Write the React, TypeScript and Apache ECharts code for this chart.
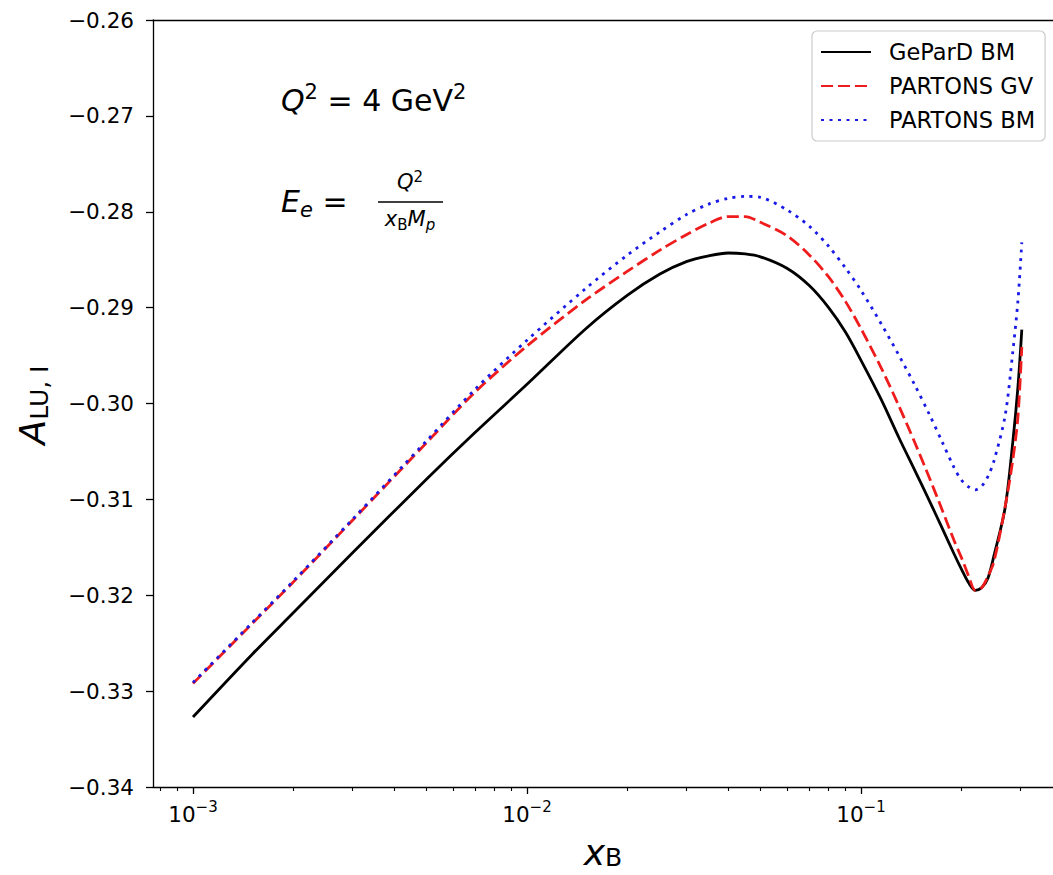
import React, { useEffect, useRef } from "react";
import * as echarts from "echarts";

// x_B sample points
const xB = [0.001, 0.0015, 0.002, 0.003, 0.005, 0.007, 0.01, 0.015, 0.02, 0.025, 0.03, 0.035, 0.04, 0.045, 0.05, 0.06, 0.07, 0.08, 0.09, 0.1, 0.115, 0.13, 0.145, 0.16, 0.175, 0.19, 0.2, 0.21, 0.22, 0.23, 0.24, 0.25, 0.27, 0.285, 0.295, 0.303];
// A_LU,I values
const gepardBM = [-0.3327, -0.3262, -0.3218, -0.3156, -0.3079, -0.303, -0.298, -0.2922, -0.2887, -0.2865, -0.2852, -0.2846, -0.2843, -0.2844, -0.2847, -0.2859, -0.2877, -0.29, -0.2926, -0.2955, -0.2996, -0.3036, -0.307, -0.3101, -0.313, -0.3157, -0.3173, -0.3187, -0.3195, -0.3192, -0.3182, -0.3159, -0.3109, -0.3039, -0.2983, -0.2923];
const partonsGV = [-0.3292, -0.323, -0.3186, -0.3122, -0.3041, -0.2988, -0.294, -0.2892, -0.2862, -0.284, -0.2824, -0.2812, -0.2805, -0.2805, -0.2811, -0.2825, -0.2845, -0.2868, -0.2894, -0.2922, -0.2963, -0.3003, -0.3041, -0.3077, -0.3111, -0.3143, -0.3161, -0.318, -0.3195, -0.3192, -0.318, -0.3165, -0.3108, -0.3058, -0.3014, -0.2941];
const partonsBM = [-0.3291, -0.3229, -0.3185, -0.3121, -0.3039, -0.2985, -0.2934, -0.288, -0.2845, -0.2821, -0.2803, -0.2792, -0.2786, -0.2784, -0.2785, -0.2798, -0.2815, -0.2836, -0.2859, -0.2882, -0.2917, -0.295, -0.2981, -0.3011, -0.304, -0.3067, -0.308, -0.3087, -0.309, -0.3086, -0.3076, -0.306, -0.3013, -0.2945, -0.2893, -0.2832];

const seriesNames = ["GeParD BM", "PARTONS GV", "PARTONS BM"];
const majorTicks = [0.001, 0.01, 0.1];
const minorTicks = [0.0008, 0.0009, 0.002, 0.003, 0.004, 0.005, 0.006, 0.007, 0.008, 0.009, 0.02, 0.03, 0.04, 0.05, 0.06, 0.07, 0.08, 0.09, 0.2, 0.3];
const yMin = -0.34;
const yMax = -0.26;
const yStep = 0.01;
const xMin = 0.000759;
const xMax = 0.3757;

const FONT = "DejaVu Sans";

export default function App() {
  const ref = useRef<HTMLDivElement>(null);
  useEffect(() => {
    if (!ref.current) return;
    const chart = echarts.init(ref.current, undefined, { renderer: "svg" });
    const pair = (ys: number[]) => xB.map((x, i) => [x, ys[i]]);
    const supExp = (v: number) => {
      const e = Math.round(Math.log10(v));
      return "{b|10}{e|" + (e < 0 ? "\u2212" + Math.abs(e) : String(e)) + "}";
    };
    const baseLog = {
      type: "log" as const,
      logBase: 10,
      min: xMin,
      max: xMax,
      splitLine: { show: false },
    };
    chart.setOption({
      animation: false,
      backgroundColor: "#fff",
      grid: { left: 153, top: 20, right: 0, bottom: 88 },
      legend: {
        orient: "vertical",
        left: 812,
        top: 31,
        data: seriesNames,
        itemWidth: 50,
        itemHeight: 14,
        itemGap: 8,
        padding: [8, 10, 8, 8],
        backgroundColor: "#fff",
        borderColor: "#cccccc",
        borderWidth: 1.2,
        borderRadius: 5,
        itemStyle: { opacity: 0 },
        textStyle: { fontFamily: FONT, fontSize: 22.5, color: "#000", padding: [0, 0, 0, 13], lineHeight: 26 },
      },
      xAxis: [
        {
          ...baseLog,
          position: "bottom",
          axisLine: { show: true, onZero: false, lineStyle: { color: "#000", width: 1.3 } },
          axisTick: { show: true, customValues: majorTicks, length: 7, lineStyle: { color: "#000", width: 1.3 } },
          axisLabel: {
            customValues: majorTicks,
            margin: 12,
            formatter: supExp,
            rich: {
              b: { fontFamily: FONT, fontSize: 21.5, color: "#000", lineHeight: 30 },
              e: { fontFamily: FONT, fontSize: 15, color: "#000", lineHeight: 15, verticalAlign: "top" },
            },
          },
        },
        {
          ...baseLog,
          position: "bottom",
          axisLine: { show: false, onZero: false },
          axisTick: { show: true, customValues: minorTicks, length: 4, lineStyle: { color: "#000", width: 1.1 } },
          axisLabel: { show: false },
        },
        {
          ...baseLog,
          position: "top",
          axisLine: { show: true, onZero: false, lineStyle: { color: "#000", width: 1.3 } },
          axisTick: { show: false },
          axisLabel: { show: false },
        },
      ],
      yAxis: {
        type: "value",
        min: yMin,
        max: yMax,
        interval: yStep,
        splitLine: { show: false },
        axisLine: { show: true, onZero: false, lineStyle: { color: "#000", width: 1.3 } },
        axisTick: { show: true, length: 7, lineStyle: { color: "#000", width: 1.3 } },
        axisLabel: {
          margin: 19,
          fontFamily: FONT,
          fontSize: 21.5,
          color: "#000",
          formatter: (v: number) => (v < 0 ? "\u2212" : "") + Math.abs(v).toFixed(2),
        },
      },
      series: [
        {
          name: seriesNames[0],
          type: "line",
          xAxisIndex: 0,
          data: pair(gepardBM),
          symbol: "none",
          smooth: 0.3,
          lineStyle: { color: "#000000", width: 2.8 },
          itemStyle: { color: "#000000" },
          z: 3,
        },
        {
          name: seriesNames[1],
          type: "line",
          xAxisIndex: 0,
          data: pair(partonsGV),
          symbol: "none",
          smooth: 0.3,
          lineStyle: { color: "#ee1c1c", width: 2.8, type: [12, 5] },
          itemStyle: { color: "#ee1c1c" },
          z: 4,
        },
        {
          name: seriesNames[2],
          type: "line",
          xAxisIndex: 0,
          data: pair(partonsBM),
          symbol: "none",
          smooth: 0.3,
          lineStyle: { color: "#1a1ae6", width: 2.8, type: [3, 5.5] },
          itemStyle: { color: "#1a1ae6" },
          z: 5,
        },
      ],
      graphic: [
        {
          type: "text",
          x: 32,
          y: 405,
          rotation: Math.PI / 2,
          style: {
            text: "{a|A}{s|LU, I}",
            align: "center",
            verticalAlign: "middle",
            rich: {
              a: { fontFamily: FONT, fontStyle: "italic", fontSize: 36, lineHeight: 40, color: "#000" },
              s: { fontFamily: FONT, fontSize: 25, lineHeight: 25, verticalAlign: "bottom", color: "#000" },
            },
          },
        },
        {
          type: "text",
          x: 603,
          y: 852,
          style: {
            text: "{a|x}{s|B}",
            align: "center",
            verticalAlign: "middle",
            rich: {
              a: { fontFamily: FONT, fontStyle: "italic", fontSize: 36, lineHeight: 36, color: "#000" },
              s: { fontFamily: FONT, fontSize: 25, lineHeight: 22, verticalAlign: "bottom", color: "#000" },
            },
          },
        },
        {
          type: "text",
          x: 281,
          y: 100,
          style: {
            text: "{i|Q}{p|2}{n| = 4 GeV}{p|2}",
            align: "left",
            verticalAlign: "middle",
            rich: {
              i: { fontFamily: FONT, fontStyle: "italic", fontSize: 30, lineHeight: 38, color: "#000" },
              n: { fontFamily: FONT, fontSize: 30, lineHeight: 38, color: "#000" },
              p: { fontFamily: FONT, fontSize: 21, lineHeight: 21, verticalAlign: "top", color: "#000" },
            },
          },
        },
        {
          type: "text",
          x: 281,
          y: 201,
          style: {
            text: "{i|E}{s|e}{n| = }",
            align: "left",
            verticalAlign: "middle",
            rich: {
              i: { fontFamily: FONT, fontStyle: "italic", fontSize: 30, lineHeight: 38, color: "#000" },
              n: { fontFamily: FONT, fontSize: 30, lineHeight: 38, color: "#000" },
              s: { fontFamily: FONT, fontStyle: "italic", fontSize: 21, lineHeight: 21, verticalAlign: "bottom", color: "#000" },
            },
          },
        },
        {
          type: "text",
          x: 410,
          y: 182,
          style: {
            text: "{i|Q}{p|2}",
            align: "center",
            verticalAlign: "middle",
            rich: {
              i: { fontFamily: FONT, fontStyle: "italic", fontSize: 21, lineHeight: 26, color: "#000" },
              p: { fontFamily: FONT, fontSize: 15, lineHeight: 15, verticalAlign: "top", color: "#000" },
            },
          },
        },
        {
          type: "line",
          shape: { x1: 378, y1: 202, x2: 443, y2: 202 },
          style: { stroke: "#000", lineWidth: 1.3 },
        },
        {
          type: "text",
          x: 410,
          y: 219,
          style: {
            text: "{i|x}{s|B}{i|M}{t|p}",
            align: "center",
            verticalAlign: "middle",
            rich: {
              i: { fontFamily: FONT, fontStyle: "italic", fontSize: 21, lineHeight: 26, color: "#000" },
              s: { fontFamily: FONT, fontSize: 15, lineHeight: 15, verticalAlign: "bottom", color: "#000" },
              t: { fontFamily: FONT, fontStyle: "italic", fontSize: 15, lineHeight: 15, verticalAlign: "bottom", color: "#000" },
            },
          },
        },
      ],
    });
    return () => chart.dispose();
  }, []);
  return (
    <div
      ref={ref}
      style={{ position: "absolute", left: 0, top: 0, width: 1053, height: 875, background: "#fff" }}
    />
  );
}
